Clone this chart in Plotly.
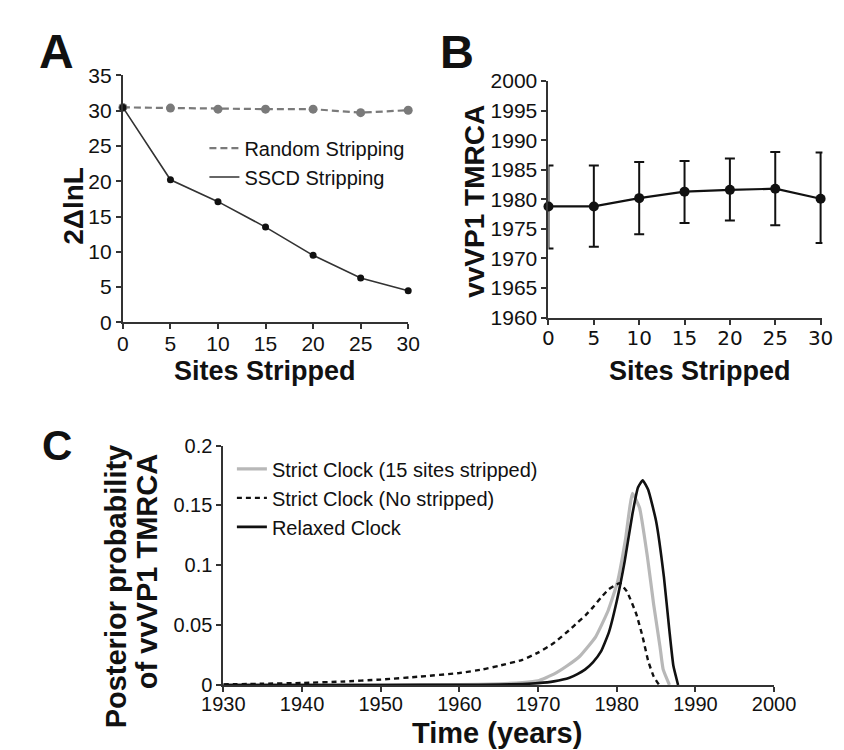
import plotly.graph_objects as go

W, H = 844, 750

# ---------------- Panel A data ----------------
sites = [0, 5, 10, 15, 20, 25, 30]
random_strip = [30.45, 30.35, 30.2, 30.2, 30.2, 29.7, 30.05]
sscd_strip = [30.45, 20.2, 17.1, 13.5, 9.5, 6.3, 4.5]
a_yticks = [0, 5, 10, 15, 20, 25, 30, 35]

# ---------------- Panel B data ----------------
tmrca = [1978.8, 1978.8, 1980.2, 1981.3, 1981.6, 1981.8, 1980.1]
tmrca_hi = [1985.7, 1985.7, 1986.3, 1986.5, 1986.9, 1988.0, 1987.9]
tmrca_lo = [1971.7, 1972.0, 1974.1, 1976.0, 1976.4, 1975.6, 1972.6]
b_yticks = [1960, 1965, 1970, 1975, 1980, 1985, 1990, 1995, 2000]

# ---------------- Panel C data ----------------
yr_strict15 = [1930, 1950, 1960, 1965, 1968, 1970, 1972, 1973.7, 1975.3, 1977.3,
               1978.9, 1980.1, 1981.1, 1982.0, 1982.9, 1983.9, 1984.7, 1985.5, 1985.9, 1986.7]
p_strict15 = [0, 0, 0.0003, 0.001, 0.002, 0.0035, 0.009, 0.016, 0.024, 0.040,
              0.062, 0.086, 0.121, 0.160, 0.148, 0.107, 0.067, 0.032, 0.013, 0]

yr_strict0 = [1930, 1935, 1940, 1945, 1950, 1955, 1960, 1963, 1965, 1968, 1970, 1972,
              1974, 1975, 1976, 1977, 1978, 1979, 1980, 1980.4, 1981.3, 1982.5, 1983.3,
              1984, 1984.7, 1985.4]
p_strict0 = [0.0005, 0.001, 0.0017, 0.0028, 0.0045, 0.007, 0.010, 0.013, 0.016, 0.021,
             0.027, 0.035, 0.046, 0.052, 0.058, 0.065, 0.073, 0.080, 0.084, 0.085, 0.078,
             0.059, 0.040, 0.020, 0.007, 0]

yr_relaxed = [1930, 1940, 1950, 1960, 1965, 1968, 1970, 1972, 1974, 1975, 1976, 1977,
              1978, 1979, 1980, 1981, 1982, 1982.7, 1983.3, 1984, 1985, 1986, 1986.7,
              1987.2, 1987.8]
p_relaxed = [0, 0, 0, 0.0001, 0.0003, 0.0008, 0.0015, 0.003, 0.006, 0.009, 0.013, 0.019,
             0.028, 0.044, 0.070, 0.103, 0.143, 0.165, 0.171, 0.163, 0.137, 0.090, 0.045,
             0.016, 0]

FONT = "Liberation Sans, Arial, sans-serif"
VERD = "DejaVu Sans, Verdana, sans-serif"
AX = "#333333"


def px(x):
    return x / W


def py(y):
    return 1 - y / H


fig = go.Figure()

# Panel A
fig.add_trace(go.Scatter(x=sites, y=random_strip, mode="lines", name="Random Stripping",
                         line=dict(color="#7a7a7a", width=2.2, dash="7px,4px"),
                         xaxis="x", yaxis="y", legend="legend"))
fig.add_trace(go.Scatter(x=sites, y=random_strip, mode="markers", showlegend=False,
                         marker=dict(color="#7a7a7a", size=9),
                         xaxis="x", yaxis="y", cliponaxis=False))
fig.add_trace(go.Scatter(x=sites, y=sscd_strip, mode="lines", name="SSCD Stripping",
                         line=dict(color="#333333", width=1.6),
                         xaxis="x", yaxis="y", legend="legend"))
fig.add_trace(go.Scatter(x=sites, y=sscd_strip, mode="markers", showlegend=False,
                         marker=dict(color="#111111", size=7),
                         xaxis="x", yaxis="y", cliponaxis=False))

# Panel B
err_plus = [h - m for h, m in zip(tmrca_hi, tmrca)]
err_minus = [m - l for m, l in zip(tmrca, tmrca_lo)]
fig.add_trace(go.Scatter(x=sites, y=tmrca, mode="lines+markers", showlegend=False,
                         line=dict(color="#111111", width=2.2),
                         marker=dict(color="#111111", size=10),
                         error_y=dict(type="data", symmetric=False, array=err_plus,
                                      arrayminus=err_minus, color="#111111",
                                      thickness=2, width=5),
                         xaxis="x2", yaxis="y2", cliponaxis=False))

# Panel C
fig.add_trace(go.Scatter(x=yr_strict15, y=p_strict15, mode="lines",
                         name="Strict Clock (15 sites stripped)",
                         line=dict(color="#b8b8b8", width=3.2, shape="spline", smoothing=0.4),
                         xaxis="x3", yaxis="y3", legend="legend2"))
fig.add_trace(go.Scatter(x=yr_strict0, y=p_strict0, mode="lines",
                         name="Strict Clock (No stripped)",
                         line=dict(color="#111111", width=2.4, dash="5px,4px",
                                   shape="spline", smoothing=0.4),
                         xaxis="x3", yaxis="y3", legend="legend2"))
fig.add_trace(go.Scatter(x=yr_relaxed, y=p_relaxed, mode="lines", name="Relaxed Clock",
                         line=dict(color="#111111", width=2.6, shape="spline", smoothing=0.4),
                         xaxis="x3", yaxis="y3", legend="legend2"))

axis_common = dict(showline=True, linecolor=AX, linewidth=2, ticks="outside",
                   ticklen=5, tickwidth=1.5, tickcolor=AX, showgrid=False,
                   zeroline=False, mirror=False)

fig.update_layout(
    width=W, height=H, autosize=False,
    margin=dict(l=0, r=0, t=0, b=0),
    paper_bgcolor="white", plot_bgcolor="white",
    font=dict(family=FONT, color="#111111", size=20),
    xaxis=dict(domain=[px(98), px(399)], range=[0, 30], tickvals=sites,
               tickfont=dict(family=FONT, size=21), ticklabelstandoff=-4,
               anchor="y", **axis_common),
    yaxis=dict(domain=[py(312), py(57)], range=[0, 35], tickvals=a_yticks,
               tickfont=dict(family=FONT, size=21), anchor="x", **axis_common),
    xaxis2=dict(domain=[px(547), px(836)], range=[0, 30.2], tickvals=sites,
                tickfont=dict(family=VERD, size=20), ticklabelstandoff=-4,
                anchor="y2", **axis_common),
    yaxis2=dict(domain=[py(307), py(63)], range=[1960, 2000], tickvals=b_yticks,
                tickfont=dict(family=FONT, size=21), anchor="x2", **axis_common),
    xaxis3=dict(domain=[px(204), px(785)], range=[1930, 2000], dtick=10,
                tickfont=dict(family=FONT, size=20), ticklabelstandoff=-5,
                anchor="y3", **axis_common),
    yaxis3=dict(domain=[py(686), py(439)], range=[0, 0.2], dtick=0.05,
                tickfont=dict(family=FONT, size=20), anchor="x3", **axis_common),
    legend=dict(x=px(184), y=py(112), xanchor="left", yanchor="top",
                bgcolor="rgba(0,0,0,0)", font=dict(family=FONT, size=20, color="#111111"),
                tracegroupgap=0, itemwidth=30),
    legend2=dict(x=px(213), y=py(443), xanchor="left", yanchor="top",
                 bgcolor="rgba(0,0,0,0)", font=dict(family=FONT, size=20, color="#111111"),
                 tracegroupgap=0, itemwidth=30),
)

ann = []


def add_text(text, x, y, size, angle=0, bold=True, family=FONT):
    ann.append(dict(text=("<b>%s</b>" % text) if bold else text, x=px(x), y=py(y),
                    xref="paper", yref="paper", showarrow=False, textangle=angle,
                    xanchor="center", yanchor="middle",
                    font=dict(family=family, size=size, color="#111111")))


add_text("A", 28, 32, 48)
add_text("B", 450, 32, 47)
add_text("C", 28, 439, 42)
add_text("2ΔlnL", 45, 192, 28, angle=-90)
add_text("vvVP1 TMRCA", 469, 187, 28, angle=-90)
add_text("Sites Stripped", 248, 362, 27)
add_text("Sites Stripped", 707, 362, 27)
add_text("Posterior probability", 91, 584, 29, angle=-90)
add_text("of vvVP1 TMRCA", 123, 569, 29, angle=-90)
add_text("Time (years)", 493, 736, 29)

fig.update_layout(annotations=ann)

fig.write_html("out.html")
